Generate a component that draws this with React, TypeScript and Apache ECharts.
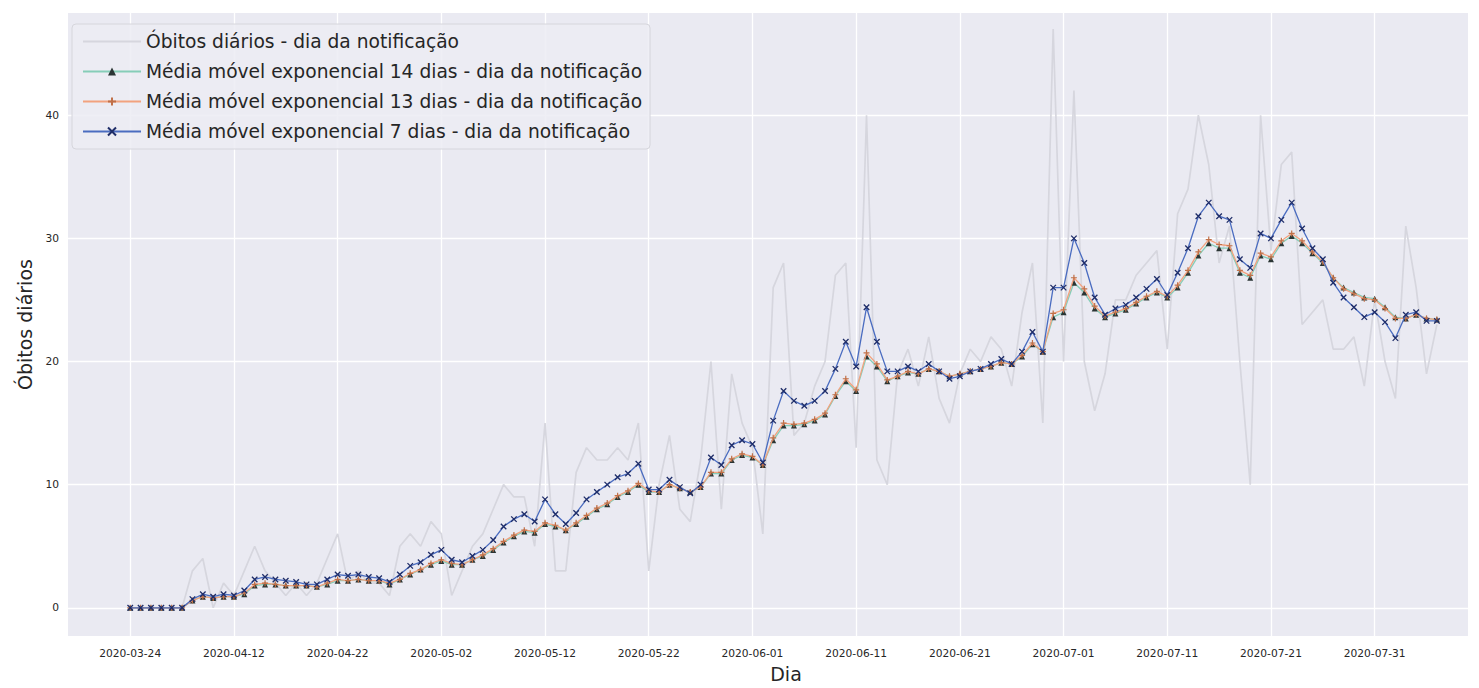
import React, { useEffect, useRef } from 'react';
import * as echarts from 'echarts';

const tickPositions = [0, 10, 20, 30, 40, 50, 60, 70, 80, 90, 100, 110, 120];
const tickLabels = [
  '2020-03-24', '2020-04-12', '2020-04-22', '2020-05-02', '2020-05-12', '2020-05-22',
  '2020-06-01', '2020-06-11', '2020-06-21', '2020-07-01', '2020-07-11', '2020-07-21', '2020-07-31',
];
const yTicks = [0, 10, 20, 30, 40];

const daily = [
  0, 0, 0, 0, 0, 0, 3, 4, 0, 2,
  1, 3, 5, 3, 2, 1, 2, 1, 2, 4,
  6, 2, 3, 2, 2, 1, 5, 6, 5, 7,
  6, 1, 3, 5, 6, 8, 10, 9, 9, 5,
  15, 3, 3, 11, 13, 12, 12, 13, 12, 15,
  3, 10, 14, 8, 7, 12, 20, 8, 19, 15,
  13, 6, 26, 28, 14, 15, 18, 20, 27, 28,
  13, 40, 12, 10, 19, 21, 18, 22, 17, 15,
  19, 21, 20, 22, 21, 18, 24, 28, 15, 47,
  20, 42, 20, 16, 19, 25, 25, 27, 28, 29,
  21, 32, 34, 40, 36, 28, 31, 20, 10, 40,
  29, 36, 37, 23, 24, 25, 21, 21, 22, 18,
  25, 20, 17, 31, 26, 19, 23,
];

const ema14 = [
  0, 0, 0, 0, 0, 0, 0.6, 0.9, 0.8, 0.9,
  0.9, 1.1, 1.8, 1.9, 1.9, 1.8, 1.8, 1.8, 1.7, 1.9,
  2.2, 2.2, 2.3, 2.2, 2.2, 1.9, 2.3, 2.7, 3.1, 3.5,
  3.8, 3.5, 3.5, 3.9, 4.2, 4.7, 5.3, 5.8, 6.2, 6.1,
  6.8, 6.6, 6.3, 6.8, 7.4, 8.0, 8.4, 9.0, 9.4, 10.0,
  9.4, 9.4, 10.0, 9.7, 9.4, 9.8, 10.9, 10.9, 12.0, 12.4,
  12.2, 11.6, 13.6, 14.8, 14.8, 14.9, 15.2, 15.7, 17.2, 18.4,
  17.6, 20.4, 19.6, 18.4, 18.8, 19.1, 19.0, 19.4, 19.2, 18.8,
  19.0, 19.2, 19.4, 19.6, 19.9, 19.8, 20.4, 21.4, 20.8, 23.6,
  24.0, 26.4, 25.6, 24.3, 23.6, 23.9, 24.2, 24.7, 25.2, 25.6,
  25.2, 26.0, 27.2, 28.6, 29.6, 29.2, 29.2, 27.2, 26.8, 28.6,
  28.3, 29.6, 30.2, 29.6, 28.8, 28.0, 26.8, 26.0, 25.6, 25.2,
  25.1, 24.4, 23.6, 23.5, 23.8, 23.5, 23.4,
];

const ema13 = [
  0, 0, 0, 0, 0, 0, 0.6, 0.9, 0.8, 0.9,
  0.9, 1.2, 1.9, 2.0, 1.9, 1.8, 1.8, 1.8, 1.7, 2.0,
  2.3, 2.2, 2.3, 2.2, 2.2, 2.0, 2.3, 2.8, 3.1, 3.6,
  3.9, 3.6, 3.5, 3.9, 4.3, 4.8, 5.4, 5.9, 6.3, 6.2,
  6.9, 6.7, 6.3, 6.9, 7.5, 8.1, 8.5, 9.1, 9.5, 10.1,
  9.5, 9.4, 10.0, 9.7, 9.4, 9.8, 11.0, 11.0, 12.1, 12.5,
  12.3, 11.6, 13.8, 15.0, 14.9, 15.0, 15.3, 15.8, 17.3, 18.6,
  17.7, 20.7, 19.8, 18.5, 18.8, 19.2, 19.0, 19.4, 19.2, 18.8,
  19.0, 19.2, 19.4, 19.6, 19.9, 19.8, 20.5, 21.5, 20.8, 23.9,
  24.2, 26.8, 25.9, 24.5, 23.7, 24.0, 24.3, 24.8, 25.3, 25.7,
  25.3, 26.2, 27.4, 28.9, 29.9, 29.5, 29.4, 27.4, 27.0, 28.8,
  28.5, 29.8, 30.4, 29.8, 28.9, 28.1, 26.8, 25.9, 25.5, 25.1,
  25.0, 24.3, 23.5, 23.5, 23.8, 23.5, 23.4,
];

const ema7 = [
  0, 0, 0, 0, 0, 0, 0.7, 1.1, 0.9, 1.1,
  1.0, 1.4, 2.3, 2.5, 2.3, 2.2, 2.1, 1.9, 1.9, 2.3,
  2.7, 2.6, 2.7, 2.5, 2.4, 2.1, 2.7, 3.4, 3.7, 4.3,
  4.7, 3.9, 3.7, 4.2, 4.7, 5.5, 6.6, 7.2, 7.6, 7.0,
  8.8, 7.6, 6.8, 7.7, 8.8, 9.4, 10.0, 10.6, 10.9, 11.7,
  9.6, 9.6, 10.4, 9.8, 9.3, 10.0, 12.2, 11.6, 13.2, 13.6,
  13.3, 11.8, 15.2, 17.6, 16.8, 16.4, 16.8, 17.6, 19.4, 21.6,
  19.6, 24.4, 21.6, 19.2, 19.2, 19.6, 19.2, 19.8, 19.2, 18.6,
  18.8, 19.2, 19.4, 19.8, 20.2, 19.8, 20.8, 22.4, 20.8, 26.0,
  26.0, 30.0, 28.0, 25.2, 23.8, 24.3, 24.6, 25.2, 25.9, 26.7,
  25.4, 27.2, 29.2, 31.8, 32.9, 31.8, 31.5, 28.3, 27.6, 30.4,
  30.0, 31.5, 32.9, 30.8, 29.2, 28.3, 26.4, 25.2, 24.4, 23.6,
  24.0, 23.2, 21.9, 23.8, 24.0, 23.3, 23.3,
];

const FONT = "'DejaVu Sans', Verdana, sans-serif";
const TEXT = '#262626';

const NAME_DAILY = 'Óbitos diários - dia da notificação';
const NAME_14 = 'Média móvel exponencial 14 dias - dia da notificação';
const NAME_13 = 'Média móvel exponencial 13 dias - dia da notificação';
const NAME_7 = 'Média móvel exponencial 7 dias - dia da notificação';

export default function App() {
  const ref = useRef<HTMLDivElement>(null);

  useEffect(() => {
    const chart = echarts.init(ref.current as HTMLDivElement, null, { renderer: 'svg' });
    const pairs = (arr: number[]) => arr.map((v, i) => [i, v]);

    chart.setOption({
      animation: false,
      backgroundColor: '#ffffff',
      textStyle: { fontFamily: FONT },
      grid: {
        left: 68, right: 11, top: 13, bottom: 45,
        show: true, backgroundColor: '#EAEAF2', borderWidth: 0,
      },
      xAxis: {
        type: 'value',
        min: -6,
        max: 129,
        name: 'Dia',
        nameLocation: 'middle',
        nameGap: 27,
        nameTextStyle: { fontSize: 19, color: TEXT, fontFamily: FONT, padding: [0, 0, 0, 36] },
        axisLine: { show: false },
        axisTick: { show: false, customValues: tickPositions },
        axisLabel: {
          customValues: tickPositions,
          formatter: (v: number) => tickLabels[Math.round(v / 10)] ?? '',
          fontSize: 10.67,
          color: TEXT,
          margin: 12,
          fontFamily: FONT,
        },
        splitLine: { show: true, lineStyle: { color: '#ffffff', width: 1.3 } },
      },
      yAxis: {
        type: 'value',
        min: -2.3,
        max: 48.3,
        name: 'Óbitos diários',
        nameLocation: 'middle',
        nameGap: 14,
        nameTextStyle: { fontSize: 19, color: TEXT, fontFamily: FONT },
        axisLine: { show: false },
        axisTick: { show: false, customValues: yTicks },
        axisLabel: {
          customValues: yTicks,
          fontSize: 10.67,
          color: TEXT,
          margin: 9,
          fontFamily: FONT,
        },
        splitLine: { show: true, lineStyle: { color: '#ffffff', width: 1.3 } },
      },
      legend: {
        orient: 'vertical',
        left: 72,
        top: 24,
        itemWidth: 58,
        itemHeight: 10,
        itemGap: 11,
        backgroundColor: 'rgba(236,236,243,0.85)',
        borderColor: '#d6d6dc',
        borderWidth: 1,
        borderRadius: 4,
        padding: [8, 8, 8, 10],
        textStyle: { fontSize: 18.67, color: TEXT, fontFamily: FONT },
        data: [
          { name: NAME_DAILY, itemStyle: { opacity: 0 } },
          { name: NAME_14 },
          { name: NAME_13 },
          { name: NAME_7 },
        ],
      },
      series: [
        {
          name: NAME_DAILY,
          type: 'line',
          data: pairs(daily),
          showSymbol: false,
          symbol: 'none',
          z: 1,
          itemStyle: { color: '#d6d6de' },
          lineStyle: { color: '#d6d6de', width: 1.7 },
        },
        {
          name: NAME_14,
          type: 'line',
          data: pairs(ema14),
          symbol: 'triangle',
          symbolSize: 6,
          z: 3,
          itemStyle: { color: '#2a3534' },
          lineStyle: { color: '#86cdb8', width: 1.3 },
        },
        {
          name: NAME_13,
          type: 'line',
          data: pairs(ema13),
          symbol: 'path://M5,0L5,10M0,5L10,5',
          symbolSize: 6,
          z: 4,
          itemStyle: { color: '#c07048', borderColor: '#c07048', borderWidth: 1.2 },
          lineStyle: { color: '#f2a27e', width: 1.3 },
        },
        {
          name: NAME_7,
          type: 'line',
          data: pairs(ema7),
          symbol: 'path://M0,0L10,10M10,0L0,10',
          symbolSize: 5.5,
          z: 5,
          itemStyle: { color: '#1f2d68', borderColor: '#1f2d68', borderWidth: 1.3 },
          lineStyle: { color: '#4a6cc0', width: 1.3 },
        },
      ],
    });

    return () => chart.dispose();
  }, []);

  return (
    <div
      ref={ref}
      style={{ position: 'fixed', left: 0, top: 0, width: 1479, height: 688 }}
    />
  );
}
